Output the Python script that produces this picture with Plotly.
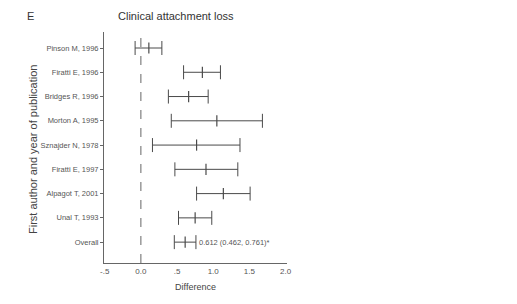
import plotly.graph_objects as go

studies = ["Pinson M, 1996", "Firatti E, 1996", "Bridges R, 1996", "Morton A, 1995",
           "Sznajder N, 1978", "Firatti E, 1997", "Alpagot T, 2001", "Unal T, 1993", "Overall"]
mean = [0.11, 0.85, 0.66, 1.05, 0.77, 0.90, 1.14, 0.75, 0.612]
lower = [-0.08, 0.59, 0.38, 0.42, 0.16, 0.47, 0.77, 0.52, 0.462]
upper = [0.29, 1.10, 0.93, 1.68, 1.37, 1.34, 1.51, 0.98, 0.761]
xtick_vals = [-0.5, 0.0, 0.5, 1.0, 1.5, 2.0]
xtick_text = ["-.5", "0.0", ".5", "1.0", "1.5", "2.0"]
overall_label = "0.612 (0.462, 0.761)*"

font = "Liberation Sans Narrow, Liberation Sans, Arial, sans-serif"
ink = "#4a4a4a"

L, R, T, B = 104, 230, 32, 41
PW, PH = 517 - L - R, 304 - T - B

fig = go.Figure()
fig.add_trace(go.Scatter(
    x=mean, y=studies, mode="markers",
    marker=dict(symbol="line-ns", size=8, line=dict(color=ink, width=1.2), color=ink),
    error_x=dict(type="data", symmetric=False,
                 array=[u - m for u, m in zip(upper, mean)],
                 arrayminus=[m - l for m, l in zip(mean, lower)],
                 color=ink, thickness=1.0, width=7),
    showlegend=False, hoverinfo="skip"))

fig.add_shape(type="line", xref="x", yref="paper", x0=0, x1=0, y0=0, y1=1,
              line=dict(color="#666", width=1, dash="dash"))

fig.add_annotation(x=upper[-1], y=studies[-1], xref="x", yref="y", text=overall_label,
                   showarrow=False, xanchor="left", xshift=1,
                   font=dict(family=font, size=7.5, color="#555"))
fig.add_annotation(x=(176 - L) / PW, y=(304 - B - 16) / PH, xref="paper", yref="paper",
                   xanchor="center", yanchor="middle",
                   text="Clinical attachment loss", showarrow=False,
                   font=dict(family=font, size=11, color="#333"))
fig.add_annotation(x=(30 - L) / PW, y=(304 - B - 16) / PH, xref="paper", yref="paper",
                   xanchor="center", yanchor="middle", text="E", showarrow=False,
                   font=dict(family=font, size=11, color="#333"))
fig.add_annotation(x=(33 - L) / PW, y=(304 - B - 150) / PH, xref="paper", yref="paper",
                   xanchor="center", yanchor="middle",
                   text="First author and year of publication", textangle=-90,
                   showarrow=False, font=dict(family=font, size=11, color="#444"))

fig.update_layout(
    width=517, height=304,
    margin=dict(l=L, r=R, t=T, b=B),
    paper_bgcolor="white", plot_bgcolor="white",
    font=dict(family=font, size=8, color="#555"),
    xaxis=dict(range=[-0.51, 2.02], tickvals=xtick_vals, ticktext=xtick_text,
               showgrid=False, zeroline=False, showline=True, linecolor="#666",
               linewidth=1, ticks="", tickfont=dict(size=8, color="#555"),
               title=dict(text="Difference", font=dict(family=font, size=9, color="#444"),
                          standoff=9)),
    yaxis=dict(categoryorder="array", categoryarray=studies, range=[8.86, -0.66],
               showgrid=False, zeroline=False, showline=True, linecolor="#666",
               linewidth=1, ticks="outside", ticklen=3, tickcolor="#666",
               tickfont=dict(size=7.5, color="#555")),
)

fig.write_html("out.html", config={"displayModeBar": False},
               post_script="document.body.style.margin='0';document.body.style.overflow='hidden';")
